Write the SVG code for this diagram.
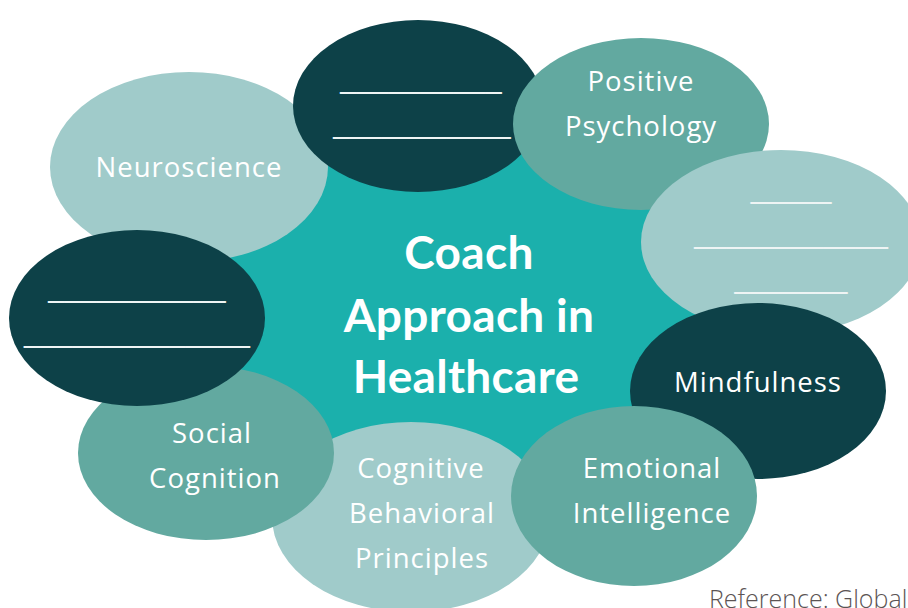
<svg xmlns="http://www.w3.org/2000/svg" width="908" height="608" viewBox="0 0 908 608">
<style>
.dark{fill:#0d4148}
.mid{fill:#62a9a0}
.light{fill:#a0cbca}
.lbl{font-family:"Open Sans","Liberation Sans",sans-serif;font-size:27.5px;letter-spacing:1px;fill:#ffffff;text-anchor:middle}
.blank{font-family:"Liberation Sans",Arial,sans-serif;font-size:29px;fill:#eef4f4;text-anchor:middle}
.title{font-family:Lato,"Liberation Sans",sans-serif;font-weight:bold;font-size:46px;letter-spacing:0.3px;fill:#ffffff;text-anchor:middle}
.ref{font-family:"Open Sans","Liberation Sans",sans-serif;font-weight:300;font-size:25px;fill:#5c5454}
</style>
<rect width="908" height="608" fill="#ffffff"/>
<g id="connectors"></g>
<g id="center">
<ellipse cx="465" cy="305" rx="270" ry="165" fill="#1bb0ac"/>
<text class="title" x="469" y="269">Coach</text>
<text class="title" x="469" y="332">Approach in</text>
<text class="title" x="466" y="393">Healthcare</text>
</g>
<g id="cognitive">
<ellipse class="light" cx="411" cy="517" rx="139" ry="95"/>
<text class="lbl" x="421" y="478">Cognitive</text>
<text class="lbl" x="422" y="523">Behavioral</text>
<text class="lbl" x="422" y="568">Principles</text>
</g>
<g id="neuroscience">
<ellipse class="light" cx="189" cy="167" rx="139" ry="95"/>
<text class="lbl" x="189" y="177">Neuroscience</text>
</g>
<g id="social">
<ellipse class="mid" cx="206" cy="453" rx="128" ry="87"/>
<text class="lbl" x="212" y="443">Social</text>
<text class="lbl" x="215" y="488">Cognition</text>
</g>
<g id="blank-left">
<ellipse class="dark" cx="137" cy="318" rx="128" ry="88"/>
<text class="blank" x="137" y="297">___________</text>
<text class="blank" x="137" y="342">______________</text>
</g>
<g id="blank-top">
<ellipse class="dark" cx="418" cy="106" rx="125" ry="86"/>
<text class="blank" x="421" y="88">__________</text>
<text class="blank" x="422" y="133">___________</text>
</g>
<g id="positive">
<ellipse class="mid" cx="641" cy="124" rx="128" ry="86"/>
<text class="lbl" x="641" y="91">Positive</text>
<text class="lbl" x="641" y="136">Psychology</text>
</g>
<g id="blank-right">
<ellipse class="light" cx="781" cy="242" rx="140" ry="92"/>
<text class="blank" x="791" y="198">_____</text>
<text class="blank" x="791" y="243">____________</text>
<text class="blank" x="791" y="288">_______</text>
</g>
<g id="mindfulness">
<ellipse class="dark" cx="758" cy="391" rx="128" ry="88"/>
<text class="lbl" x="758" y="392">Mindfulness</text>
</g>
<g id="emotional">
<ellipse class="mid" cx="634" cy="496" rx="123" ry="90"/>
<text class="lbl" x="652" y="478">Emotional</text>
<text class="lbl" x="652" y="523">Intelligence</text>
</g>
<text class="ref" x="709" y="608">Reference: Global</text>
</svg>
